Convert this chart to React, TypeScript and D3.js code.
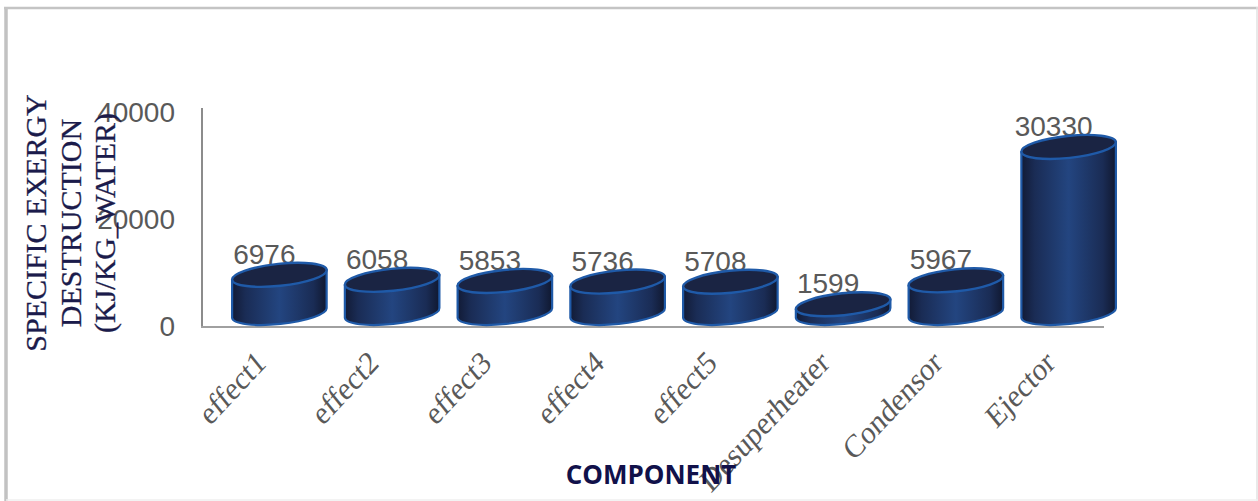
import React from "react";
import * as d3 from "d3";

const categories = ["effect1", "effect2", "effect3", "effect4", "effect5", "Desuperheater", "Condensor", "Ejector"];
const values = [6976, 6058, 5853, 5736, 5708, 1599, 5967, 30330];
const yTicks = [0, 20000, 40000];
const yTitleLines = ["SPECIFIC EXERGY", "DESTRUCTION", "(KJ/KG_WATER)"];
const xTitle = "COMPONENT";

const width = 1258;
const height = 501;
const x = d3.scaleBand<string>().domain(categories).range([223, 1125]).paddingInner(0.157).paddingOuter(0.0785);
const y = d3.scaleLinear().domain([0, 40000]).range([327, 108]);
// tick label baselines run on a slightly tighter span than the axis line
const tickBaseline = d3.scaleLinear().domain([0, 40000]).range([336, 122]);
const baseShift = 14; // the cylinder floors sit above the axis in the oblique view
const tilt = -6;

function cylinder(cx: number, rx: number, ry: number, topY: number, botY: number) {
  const dy = Math.sin((tilt * Math.PI) / 180) * rx;
  const dx = Math.cos((tilt * Math.PI) / 180) * rx;
  const p = d3.path();
  p.moveTo(cx - dx, topY - dy);
  p.lineTo(cx - dx, botY - dy);
  const arc = `A${rx} ${ry} ${tilt} 0 0 ${cx + dx} ${botY + dy}`;
  return `${p.toString()}${arc}L${cx + dx} ${topY + dy}Z`;
}

export default function App() {
  return (
    <svg
      width={width}
      height={height}
      viewBox={`0 0 ${width} ${height}`}
      style={{ position: "absolute", left: 0, top: 0, background: "#fff" }}
    >
      <defs>
        <linearGradient id="drum" x1="0" x2="1" y1="0" y2="0">
          <stop offset="0" stopColor="#121b36" />
          <stop offset="0.14" stopColor="#1a2c55" />
          <stop offset="0.5" stopColor="#234580" />
          <stop offset="0.86" stopColor="#1a2c55" />
          <stop offset="1" stopColor="#101830" />
        </linearGradient>
      </defs>
      {/* chart frame: heavy on the left and top, barely visible on the other two sides */}
      <line x1={6} x2={6} y1={7} y2={501} stroke="#c2c2c2" strokeWidth={3.5} />
      <line x1={4} x2={1258} y1={8} y2={8} stroke="#c4c4c4" strokeWidth={2.5} />
      <line x1={1257} x2={1257} y1={7} y2={501} stroke="#e2e2e2" strokeWidth={1.5} />
      <line x1={6} x2={1258} y1={500} y2={500} stroke="#efefef" strokeWidth={1.5} />

      <line x1={202} x2={202} y1={y(40000)} y2={y(0)} stroke="#8c8c8c" strokeWidth={2} />
      <line x1={201} x2={1104} y1={y(0)} y2={y(0)} stroke="#a0a0a0" strokeWidth={2} />

      {yTicks.map((t) => (
        <text key={t} x={175} y={tickBaseline(t)} textAnchor="end" fontFamily="Liberation Sans" fontSize={28} fill="#595959">
          {t}
        </text>
      ))}

      {categories.map((c, i) => {
        const rx = x.bandwidth() / 2;
        const cx = x(c)! + rx;
        const ry = 11;
        const botY = y(0) - baseShift;
        const topY = y(values[i]) - baseShift;
        return (
          <g key={c}>
            <text x={cx - 15} y={topY - 11} textAnchor="middle" fontFamily="Liberation Sans" fontSize={28} fill="#595959">
              {values[i]}
            </text>
            <path d={cylinder(cx, rx, ry, topY, botY)} fill="url(#drum)" stroke="#1f5aa8" strokeWidth={2.2} strokeLinejoin="round" />
            <ellipse
              cx={cx}
              cy={topY}
              rx={rx}
              ry={ry}
              transform={`rotate(${tilt} ${cx} ${topY})`}
              fill="#1a2443"
              stroke="#1f5aa8"
              strokeWidth={2.4}
            />
            <text
              textAnchor="end"
              fontFamily="Liberation Serif"
              fontSize={30.5}
              fill="#595959"
              transform={`translate(${cx - 12} ${365}) rotate(-47) skewX(-8)`}
            >
              {c}
            </text>
          </g>
        );
      })}

      <text
        transform="translate(80 223) rotate(-90)"
        textAnchor="middle"
        fontFamily="Liberation Serif"
        fontSize={30}
        fill="#1b1b4b"
        stroke="#1b1b4b"
        strokeWidth={0.3}
      >
        {yTitleLines.map((line, i) => (
          <tspan key={line} x={0} dy={i === 0 ? -34 : 34.5}>
            {line}
          </tspan>
        ))}
      </text>

      <text x={651} y={484} textAnchor="middle" fontFamily="Open Sans" fontWeight={700} fontSize={26} fill="#11114a">
        {xTitle}
      </text>
    </svg>
  );
}
